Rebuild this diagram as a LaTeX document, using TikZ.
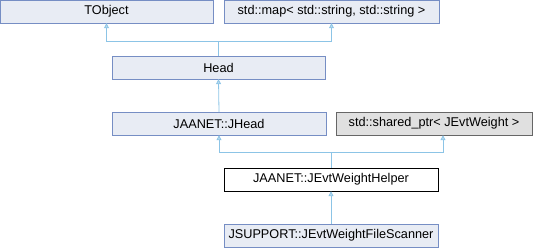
\documentclass[tikz,border=0pt]{standalone}
\usepackage{fontspec}
\setmainfont{Liberation Sans}
\usetikzlibrary{positioning,arrows.meta}
\definecolor{nodefill}{RGB}{232,236,244}
\definecolor{nodeline}{RGB}{118,142,196}
\definecolor{edgeblue}{RGB}{140,196,230}
\definecolor{extfill}{RGB}{224,224,224}
\definecolor{extline}{RGB}{102,102,102}

\begin{document}
\begin{tikzpicture}[
        x=1pt, y=-1pt,
        cls/.style={draw=nodeline, fill=nodefill, minimum height=23pt, inner sep=0pt, font=\fontsize{12.7}{15}\selectfont},
        ext/.style={cls, draw=extline, fill=extfill},
        cur/.style={cls, draw=black, fill=white},
        edge/.style={draw=edgeblue, thick, -{Triangle[open, fill=edgeblue!60, width=5pt, length=5pt]}},
        stem/.style={draw=edgeblue, thick}
    ]
        \useasboundingbox (0,0) rectangle (550,248);

        \node[cls, minimum width=213pt] (tobject) at (106.5,11.5) {TObject};
        \node[cls, minimum width=215pt] (stdmap) at (331.5,11.5) {std::map< std::string, std::string >};
        \node[cls, minimum width=213pt] (head) at (218.5,67.5) {Head};
        \node[cls, minimum width=214pt] (jhead) at (219,123.5) {JAANET::JHead};
        \node[ext, minimum width=196pt] (sharedptr) at (434,123.5) {std::shared\_ptr< JEvtWeight >};
        \node[cur, minimum width=214pt] (helper) at (331,179.5) {JAANET::JEvtWeightHelper};
        \node[cls, minimum width=214pt] (scanner) at (331,235.5) {JSUPPORT::JEvtWeightFileScanner};

        \coordinate (headsplit) at (218.5,41);
        \coordinate (helpersplit) at (331,152);

        \draw[stem] (head.north) -- (headsplit);
        \draw[edge] (headsplit) -| (tobject.south);
        \draw[edge] (headsplit) -| (stdmap.south);

        \draw[stem] (helper.north) -- (helpersplit);
        \draw[edge] (helpersplit) -| (jhead.south);
        \draw[edge] (helpersplit) -| ([xshift=9pt]sharedptr.south);

        \draw[edge] (jhead.north) -- (head.south);
        \draw[edge] (scanner.north) -- (helper.south);
    \end{tikzpicture}
\end{document}
